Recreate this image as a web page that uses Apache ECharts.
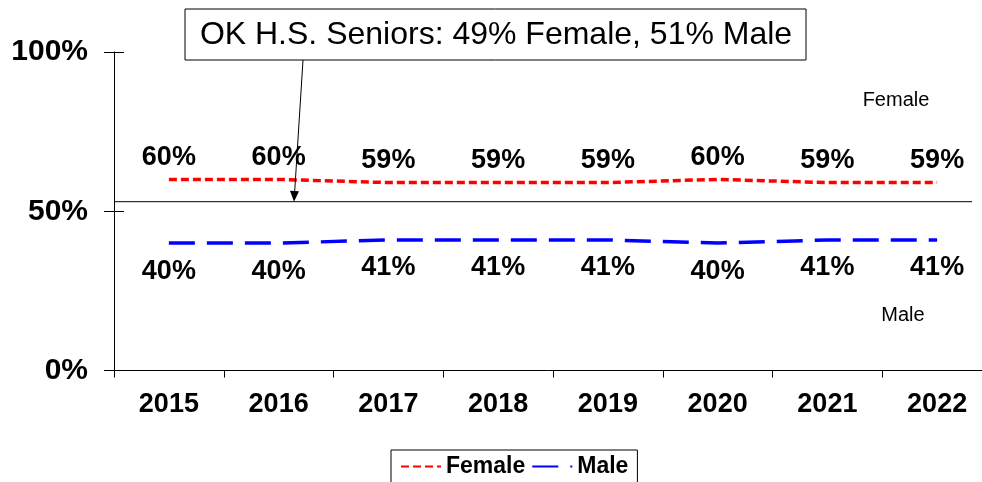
<!DOCTYPE html>
<html>
<head>
<meta charset="utf-8">
<script src="https://cdn.jsdelivr.net/npm/echarts@6/dist/echarts.min.js"></script>
<style>html,body{margin:0;padding:0;background:#fff;}#c{width:982px;height:482px;}</style>
</head>
<body>
<div id="c"></div>
<script>
var years = ['2015','2016','2017','2018','2019','2020','2021','2022'];
var female = [60, 60, 59, 59, 59, 60, 59, 59];
var male = [40, 40, 41, 41, 41, 40, 41, 41];
var yTicks = [0, 50, 100];
var refLineValue = 53;
var annotationText = 'OK H.S. Seniors: 49% Female, 51% Male';

var FONT = '"Liberation Sans", Arial, sans-serif';
var chart = echarts.init(document.getElementById('c'), null, {renderer: 'canvas'});

var option = {
  animation: false,
  backgroundColor: '#fff',
  grid: {left: 114, width: 878, top: 52, bottom: 111.5, containLabel: false, outerBoundsMode: 'none'},
  legend: {
    top: 450, left: 391,
    data: ['Female', 'Male'],
    borderColor: '#000', borderWidth: 1,
    padding: [5, 9, 24, 9],
    itemWidth: 40, itemHeight: 14, itemGap: 6,
    textStyle: {fontFamily: FONT, fontWeight: 'bold', fontSize: 23, color: '#000'},
    itemStyle: {opacity: 0}
  },
  xAxis: {
    type: 'category', data: years, boundaryGap: true,
    axisLine: {lineStyle: {color: '#000', width: 1}},
    axisTick: {show: true, length: 7, lineStyle: {color: '#000'}},
    axisLabel: {fontFamily: FONT, fontWeight: 'bold', fontSize: 27, color: '#000', margin: 21}
  },
  yAxis: [{
    type: 'value', min: yTicks[0], max: yTicks[yTicks.length - 1], interval: 50,
    axisLine: {show: true, lineStyle: {color: '#000'}},
    axisTick: {show: true, length: 10, lineStyle: {color: '#000'}},
    splitLine: {show: false},
    axisLabel: {fontFamily: FONT, fontWeight: 'bold', fontSize: 30, color: '#000', margin: 26,
      formatter: function (v) { return v + '%'; }}
  }, {
    type: 'value', min: yTicks[0], max: yTicks[yTicks.length - 1], interval: 50, position: 'left',
    axisLine: {show: false},
    axisTick: {show: true, inside: true, length: 10, lineStyle: {color: '#000'}},
    splitLine: {show: false},
    axisLabel: {show: false}
  }],
  series: [{
    name: 'Female', type: 'line', data: female,
    symbol: 'circle', symbolSize: 1, showSymbol: true,
    itemStyle: {color: 'rgba(255,0,0,0)'},
    lineStyle: {color: '#ff0000', width: 3.5, type: [8, 4]},
    label: {show: true, position: 'top', distance: 8, color: '#000', fontFamily: FONT,
      fontWeight: 'bold', fontSize: 27, formatter: '{c}%'}
  }, {
    name: 'Male', type: 'line', data: male,
    symbol: 'circle', symbolSize: 1, showSymbol: true,
    itemStyle: {color: 'rgba(0,0,255,0)'},
    lineStyle: {color: '#0000ff', width: 3.5, type: [26, 12]},
    label: {show: true, position: 'bottom', distance: 14, color: '#000', fontFamily: FONT,
      fontWeight: 'bold', fontSize: 27, formatter: '{c}%'}
  }]
};
chart.setOption(option);

var refY = chart.convertToPixel({yAxisIndex: 0}, refLineValue);
var tipX = 294;
chart.setOption({
  graphic: [
    {type: 'line', shape: {x1: 114, y1: refY, x2: 972, y2: refY}, style: {stroke: '#000', lineWidth: 1}, z: 10},
    {type: 'line', shape: {x1: 303, y1: 60, x2: tipX + 0.6, y2: refY - 9}, style: {stroke: '#000', lineWidth: 1}, z: 10},
    {type: 'polygon', shape: {points: [[tipX - 4, refY - 11], [tipX + 5, refY - 10.5], [tipX, refY]]}, style: {fill: '#000'}, z: 10},
    {type: 'rect', shape: {x: 185, y: 9, width: 621, height: 51}, style: {fill: '#fff', stroke: '#000', lineWidth: 1}, z: 10},
    {type: 'text', x: 496, y: 35, style: {text: annotationText, fontFamily: FONT, fontSize: 32, fill: '#000', align: 'center', verticalAlign: 'middle'}, z: 11},
    {type: 'text', x: 896, y: 100, style: {text: 'Female', fontFamily: FONT, fontSize: 20, fill: '#000', align: 'center', verticalAlign: 'middle'}, z: 11},
    {type: 'text', x: 903, y: 315, style: {text: 'Male', fontFamily: FONT, fontSize: 20, fill: '#000', align: 'center', verticalAlign: 'middle'}, z: 11}
  ]
});
</script>
</body>
</html>
